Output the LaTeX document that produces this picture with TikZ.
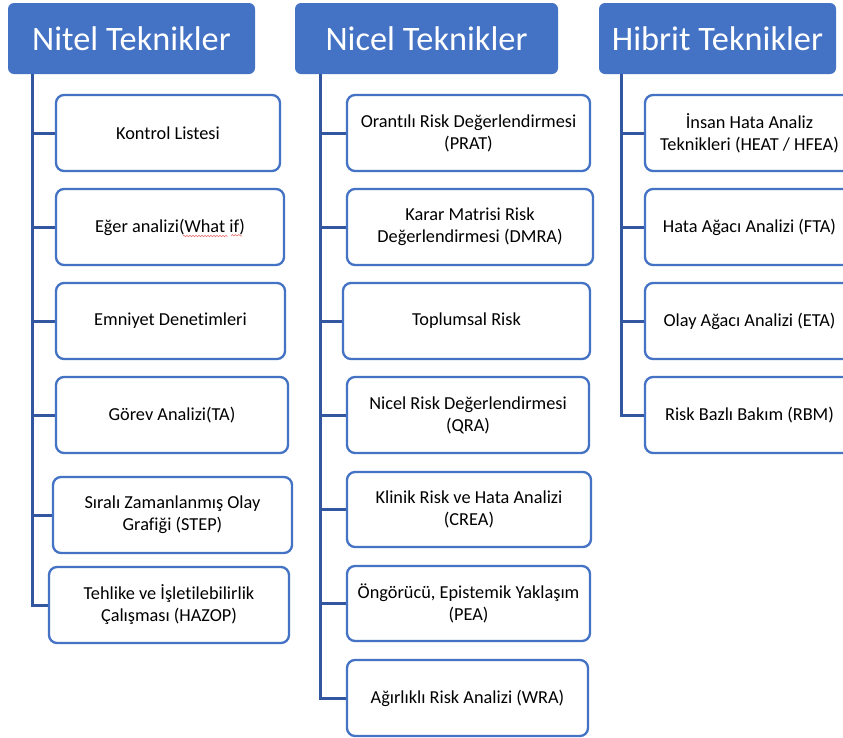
\documentclass[tikz,border=0pt]{standalone}
\usepackage{fontspec}
\setmainfont{Carlito}[Ligatures={NoCommon,NoRare}]
\usetikzlibrary{calc,backgrounds,decorations.pathmorphing}

\definecolor{headblue}{RGB}{68,114,196}
\definecolor{boxblue}{RGB}{68,114,196}
\definecolor{trunkblue}{RGB}{50,86,160}
\definecolor{spellred}{RGB}{232,110,110}

\tikzset{
  header/.style={fill=headblue, rounded corners=6pt, inner sep=0pt,
    text=white, font=\fontsize{34.3}{41}\selectfont},
  leaf/.style={draw=boxblue, line width=2.3pt, fill=white, rounded corners=8pt,
    inner sep=0pt, align=center, font=\fontsize{18.3}{22}\selectfont},
  trunk/.style={draw=trunkblue, line width=3pt}
}

\begin{document}
\begin{tikzpicture}[x=1pt, y=-1pt]
  \useasboundingbox (0,0) rectangle (843,737);
  \clip (0,0) rectangle (843,737);

  % column headers
  \node[header, minimum width=247pt, minimum height=71pt] (H1) at (131.5,38.5) {Nitel Teknikler};
  \node[header, minimum width=263pt, minimum height=71pt] (H2) at (426.5,38.5) {Nicel Teknikler};
  \node[header, minimum width=237pt, minimum height=71pt] (H3) at (717.5,38.5) {Hibrit Teknikler};

  % qualitative techniques
  \node[leaf, minimum width=224pt, minimum height=76pt] (k1) at (168,133) {Kontrol Listesi};
  \node[leaf, minimum width=228pt, minimum height=76pt] (k2) at (170,227) {Eğer analizi(What if)};
  \node[leaf, minimum width=229pt, minimum height=76pt] (k3) at (170.5,321) {Emniyet Denetimleri};
  \node[leaf, minimum width=232pt, minimum height=76pt] (k4) at (172,415) {Görev Analizi(TA)};
  \node[leaf, minimum width=239pt, minimum height=76pt] (k5) at (172.5,515) {Sıralı Zamanlanmış Olay\\Grafiği (STEP)};
  \node[leaf, minimum width=240pt, minimum height=76pt] (k6) at (169,605) {Tehlike ve İşletilebilirlik\\Çalışması (HAZOP)};

  % quantitative techniques
  \node[leaf, minimum width=243pt, minimum height=76pt] (n1) at (468.5,133) {Orantılı Risk Değerlendirmesi\\(PRAT)};
  \node[leaf, minimum width=246pt, minimum height=76pt] (n2) at (470,227) {Karar Matrisi Risk\\Değerlendirmesi (DMRA)};
  \node[leaf, minimum width=247pt, minimum height=76pt] (n3) at (466.5,321) {Toplumsal Risk};
  \node[leaf, minimum width=242pt, minimum height=76pt] (n4) at (468,415) {Nicel Risk Değerlendirmesi\\(QRA)};
  \node[leaf, minimum width=244pt, minimum height=75pt] (n5) at (469,509.5) {Klinik Risk ve Hata Analizi\\(CREA)};
  \node[leaf, minimum width=243pt, minimum height=75pt] (n6) at (468.5,603.5) {Öngörücü, Epistemik Yaklaşım\\(PEA)};
  \node[leaf, minimum width=241pt, minimum height=76pt] (n7) at (467.5,698) {Ağırlıklı Risk Analizi (WRA)};

  % hybrid techniques
  \node[leaf, minimum width=209pt, minimum height=76pt] (h1) at (749.5,133) {İnsan Hata Analiz\\Teknikleri (HEAT / HFEA)};
  \node[leaf, minimum width=209pt, minimum height=76pt] (h2) at (749.5,227) {Hata Ağacı Analizi (FTA)};
  \node[leaf, minimum width=209pt, minimum height=76pt] (h3) at (749.5,321) {Olay Ağacı Analizi (ETA)};
  \node[leaf, minimum width=209pt, minimum height=76pt] (h4) at (749.5,415) {Risk Bazlı Bakım (RBM)};

  % trunks and branches, kept behind the boxes
  \coordinate (t1) at ([xshift=25pt]H1.south west);
  \coordinate (t2) at ([xshift=26pt]H2.south west);
  \coordinate (t3) at ([xshift=23pt]H3.south west);
  \begin{scope}[on background layer]
    \fill[white] (0,0) rectangle (843,737);
    \foreach \c in {k1,k2,k3,k4,k5,k6} \draw[trunk] (t1) |- (\c.west);
    \foreach \c in {n1,n2,n3,n4,n5,n6,n7} \draw[trunk] (t2) |- (\c.west);
    \foreach \c in {h1,h2,h3,h4} \draw[trunk] (t3) |- (\c.west);
  \end{scope}

  % spell-check underline beneath "What if"
  \draw[spellred, line width=0.6pt, decorate,
        decoration={snake, amplitude=0.7pt, segment length=3pt}]
    ($(k2.center)+(13,9)$) -- ($(k2.center)+(56,9)$)
    ($(k2.center)+(61,9)$) -- ($(k2.center)+(72,9)$);
\end{tikzpicture}
\end{document}
